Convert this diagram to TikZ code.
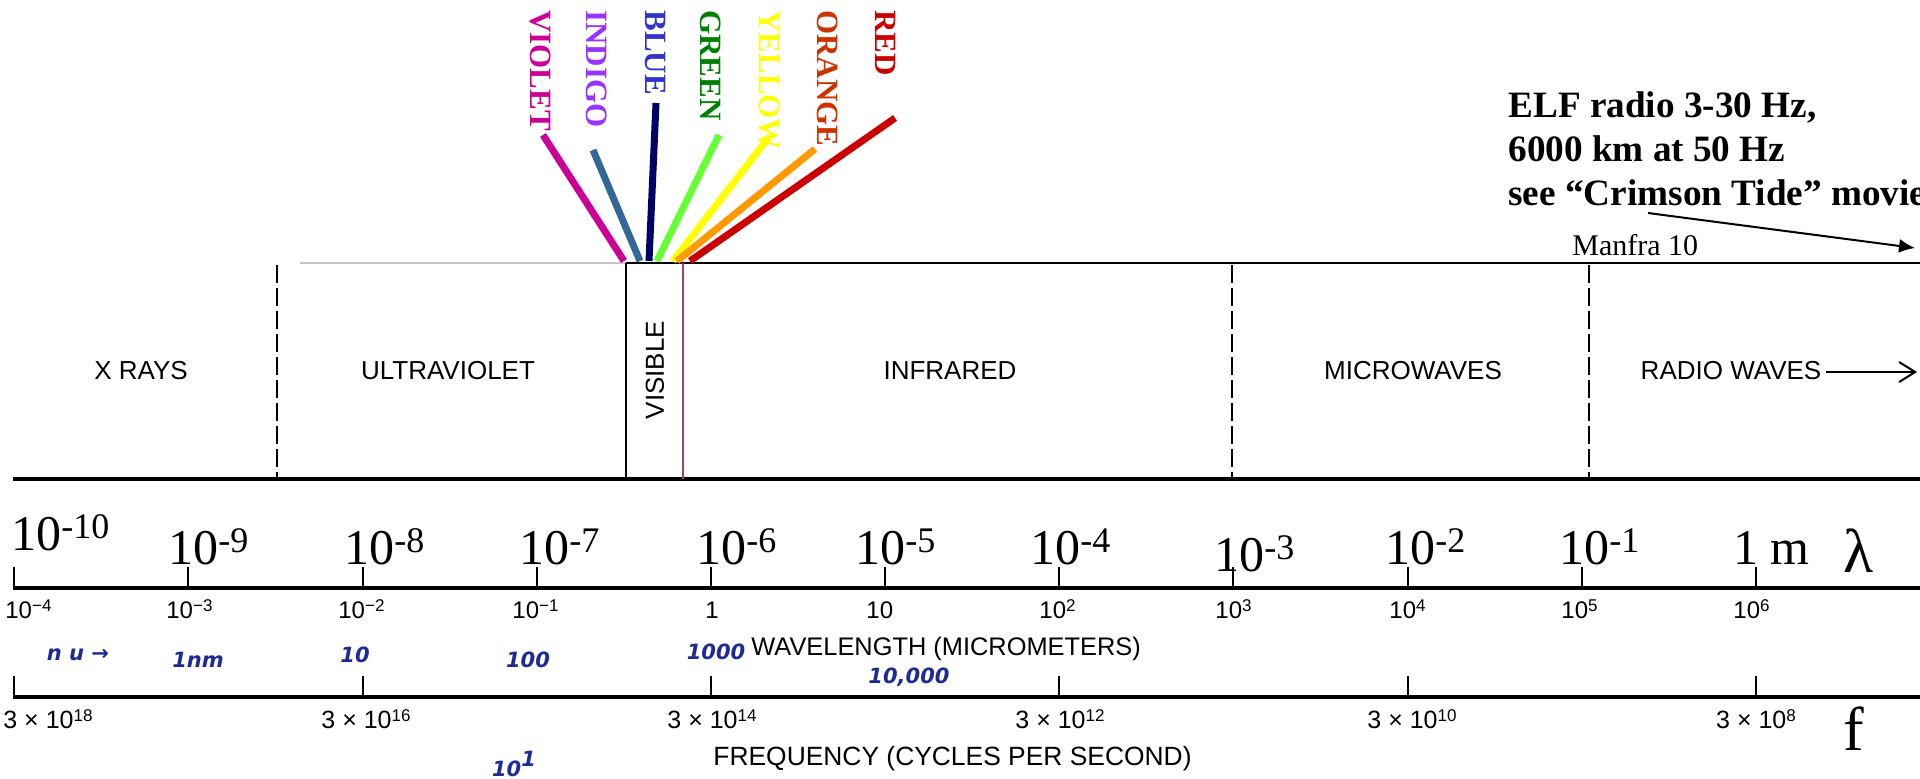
\documentclass[tikz,border=0pt]{standalone}
\usepackage{fontspec}
\setmainfont{Liberation Serif}
\setsansfont{Liberation Sans}
\newfontfamily\handfont{DejaVu Sans}
\usetikzlibrary{arrows.meta}
\definecolor{cviolet}{HTML}{CC0099}
\definecolor{cindigoT}{HTML}{9933FF}
\definecolor{cindigoL}{HTML}{336699}
\definecolor{cblueT}{HTML}{3333CC}
\definecolor{cblueL}{HTML}{000066}
\definecolor{cgreenT}{HTML}{008000}
\definecolor{cgreenL}{HTML}{66FF33}
\definecolor{cyellow}{HTML}{FFFF00}
\definecolor{corangeT}{HTML}{CC3300}
\definecolor{corangeL}{HTML}{FF9900}
\definecolor{cred}{HTML}{CC0000}
\definecolor{pinkline}{HTML}{A8406E}
\definecolor{handblue}{HTML}{1E2A96}
\newcommand{\bigten}[1]{10\raisebox{6pt}{\fontsize{18}{18}\selectfont #1}}
\newcommand{\smsup}[1]{\raisebox{3.5pt}{\fontsize{8.5}{8.5}\selectfont #1}}
\begin{document}
\begin{tikzpicture}[x=0.5pt,y=-0.5pt,
  speclab/.style={font=\fontsize{15.5}{15.5}\selectfont\bfseries, rotate=-90, anchor=west, inner sep=0pt},
  ray/.style={line width=3.5pt},
  bandlab/.style={font=\sffamily\fontsize{13}{13}\selectfont, anchor=base, inner sep=0pt},
  biglab/.style={font=\fontsize{25}{25}\selectfont, anchor=base west, inner sep=0pt},
  smalllab/.style={font=\sffamily\fontsize{12}{12}\selectfont, anchor=base west, inner sep=0pt},
  freqlab/.style={font=\sffamily\fontsize{12.5}{12.5}\selectfont, anchor=base, inner sep=0pt},
  axislab/.style={font=\sffamily\fontsize{12.7}{12.7}\selectfont, anchor=base west, inner sep=0pt},
  hand/.style={font=\handfont\bfseries\itshape\fontsize{10.5}{10.5}\selectfont, text=handblue, inner sep=0pt},
  elf/.style={font=\fontsize{18.6}{18.6}\selectfont\bfseries, anchor=base west, inner sep=0pt},
  tk/.style={line width=1pt},
  sep/.style={dash pattern=on 9pt off 2.5pt, line width=1pt},
  axisline/.style={line width=1.6pt}]
\useasboundingbox (0,0) rectangle (1920,778);

% ---------- band ----------
\draw[gray!45, line width=0.8pt] (300,263) -- (626,263);
\draw[line width=1pt] (626,263) -- (1920,263);
\draw[line width=1.8pt] (13,479) -- (1920,479);
\draw[sep] (277,265) -- (277,477);
\draw[sep] (1232,265) -- (1232,477);
\draw[sep] (1589,265) -- (1589,477);
\draw[line width=1pt] (626,263) -- (626,479);
\draw[pinkline, line width=1pt] (683,263) -- (683,479);

\node[bandlab] (xr) at (141,379) {X RAYS};
\node[bandlab] (uv) at (448,379) {ULTRAVIOLET};
\node[font=\sffamily\fontsize{13}{13}\selectfont, rotate=90, inner sep=0pt] (vis) at (655,370) {VISIBLE};
\node[bandlab] (ir) at (950,379) {INFRARED};
\node[bandlab] (mw) at (1413,379) {MICROWAVES};
\node[bandlab] (rw) at (1731,379) {RADIO WAVES};
\coordinate (rwend) at (1917,372);
\draw[line width=1pt, -{Straight Barb[length=8pt,width=10pt]}] (rw.east |- rwend) ++(4,0) -- (rwend);

% ---------- spectral rays ----------
\node[speclab, text=cviolet]  (lv) at (541,10) {VIOLET};
\node[speclab, text=cindigoT] (li) at (597,10) {INDIGO};
\node[speclab, text=cblueT]   (lb) at (655,10) {BLUE};
\node[speclab, text=cgreenT]  (lg) at (711,10) {GREEN};
\node[speclab, text=cyellow]  (ly) at (770,10) {YELLOW};
\node[speclab, text=corangeT] (lo) at (828,10) {ORANGE};
\node[speclab, text=cred]     (lr) at (886,10) {RED};
\coordinate (v1) at (543,135); \coordinate (v2) at (624,261);
\coordinate (i1) at (593,150); \coordinate (i2) at (640,261);
\coordinate (b1) at (656,103); \coordinate (b2) at (649,261);
\coordinate (g1) at (719,135); \coordinate (g2) at (657,261);
\coordinate (y1) at (769,137); \coordinate (y2) at (673,261);
\coordinate (o1) at (815,149); \coordinate (o2) at (677,261);
\coordinate (r1) at (895,118); \coordinate (r2) at (690,261);
\draw[ray, cviolet]  (v1) -- (v2);
\draw[ray, cindigoL] (i1) -- (i2);
\draw[ray, cblueL]   (b1) -- (b2);
\draw[ray, cgreenL]  (g1) -- (g2);
\draw[ray, cyellow]  (y1) -- (y2);
\draw[ray, corangeL] (o1) -- (o2);
\draw[ray, cred]     (r1) -- (r2);

% ---------- ELF note ----------
\node[elf] (elf1) at (1508,117) {ELF radio 3-30 Hz,};
\node[elf] (elf2) at (1508,161) {6000 km at 50 Hz};
\node[elf] (elf3) at (1508,205) {see “Crimson Tide” movie};
\node[font=\fontsize{15}{15}\selectfont, anchor=base west, inner sep=0pt] (manfra) at (1572,255) {Manfra 10};
\coordinate (elfA) at (1648,213);
\coordinate (elfB) at (1915,248);
\draw[line width=1pt, -{Latex[length=8pt,width=7pt]}] (elfA) -- (elfB);

% ---------- wavelength axis ----------
\draw[axisline] (13,588) -- (1920,588);
\foreach \x in {14,188,363,537,711,885,1059,1233,1408,1582,1756}
  \draw[tk] (\x,588) -- ++(0,-21);
\node[biglab] (w10) at (11,550) {\bigten{-10}};
\node[biglab] (w9) at (168,564) {\bigten{-9}};
\node[biglab] (w8) at (344,564) {\bigten{-8}};
\node[biglab] (w7) at (519,564) {\bigten{-7}};
\node[biglab] (w6) at (696,564) {\bigten{-6}};
\node[biglab] (w5) at (855,564) {\bigten{-5}};
\node[biglab] (w4) at (1030,564) {\bigten{-4}};
\node[biglab] (w3) at (1214,571) {\bigten{-3}};
\node[biglab] (w2) at (1385,564) {\bigten{-2}};
\node[biglab] (w1) at (1559,564) {\bigten{-1}};
\node[biglab] (w0) at (1733,564) {1 m};
\node[font=\fontsize{31}{31}\selectfont, anchor=base west, inner sep=0pt] (lam) at (1843,572) {λ};

\node[smalllab] (s1) at (5,618) {10\smsup{−4}};
\node[smalllab] (s2) at (166,618) {10\smsup{−3}};
\node[smalllab] (s3) at (338,618) {10\smsup{−2}};
\node[smalllab] (s4) at (512,618) {10\smsup{−1}};
\node[smalllab] (s5) at (705,618) {1};
\node[smalllab] (s6) at (866,618) {10};
\node[smalllab] (s7) at (1039,618) {10\smsup{2}};
\node[smalllab] (s8) at (1215,618) {10\smsup{3}};
\node[smalllab] (s9) at (1389,618) {10\smsup{4}};
\node[smalllab] (s10) at (1561,618) {10\smsup{5}};
\node[smalllab] (s11) at (1733,618) {10\smsup{6}};
\node[axislab] (wl) at (751,655) {WAVELENGTH (MICROMETERS)};

% ---------- frequency axis ----------
\draw[axisline] (13,697) -- (1920,697);
\foreach \x in {14,363,711,1059,1408,1756}
  \draw[tk] (\x,697) -- ++(0,-21);
\node[freqlab, anchor=base west] (f18) at (3,728) {3 × 10\smsup{18}};
\node[freqlab] (f16) at (366,728) {3 × 10\smsup{16}};
\node[freqlab] (f14) at (712,728) {3 × 10\smsup{14}};
\node[freqlab] (f12) at (1060,728) {3 × 10\smsup{12}};
\node[freqlab] (f10) at (1412,728) {3 × 10\smsup{10}};
\node[freqlab] (f8) at (1756,728) {3 × 10\smsup{8}};
\node[font=\fontsize{31}{31}\selectfont, anchor=base west, inner sep=0pt] (fsym) at (1843,750) {f};
\node[axislab, font=\sffamily\fontsize{13.2}{13.2}\selectfont] (fl) at (713,765) {FREQUENCY (CYCLES PER SECOND)};

% ---------- handwritten notes ----------
\node[hand] (h1) at (78,655) {n u →};
\node[hand] (h2) at (198,660) {1nm};
\node[hand] (h3) at (355,655) {10};
\node[hand] (h4) at (528,660) {100};
\node[hand] (h5) at (716,652) {1000};
\node[hand] (h6) at (909,677) {10,000};
\node[hand] (h7) at (514,764) {10\raisebox{5pt}{1}};
\end{tikzpicture}
\end{document}
